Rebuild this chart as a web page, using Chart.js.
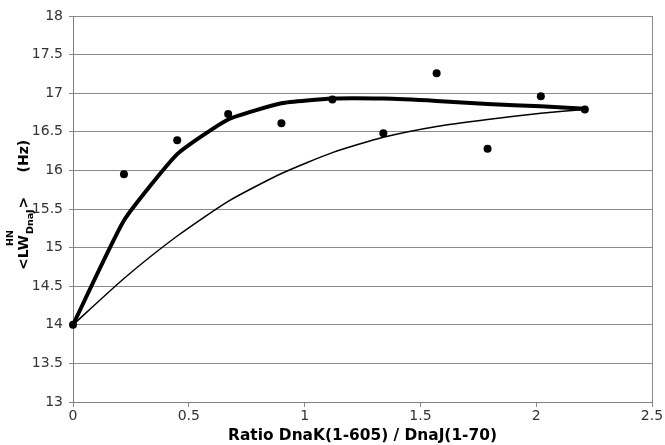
<!DOCTYPE html>
<html>
<head>
<meta charset="utf-8">
<script src="https://cdn.jsdelivr.net/npm/chart.js@4/dist/chart.umd.min.js"></script>
<style>
  body { margin: 0; background: #fff; }
  #wrap { width: 665px; height: 445px; }
</style>
</head>
<body>
<div id="wrap"><canvas id="myChart"></canvas></div>
<script>
// ratio DnaK(1-605) / DnaJ(1-70)
var ratio    = [0, 0.22, 0.45, 0.67, 0.9, 1.12, 1.34, 1.57, 1.79, 2.02, 2.21];
// measured <LW> (Hz)
var measured = [14, 15.95, 16.39, 16.73, 16.61, 16.92, 16.48, 17.26, 16.28, 16.96, 16.79];
// fitted curves
var fitThick = [14, 15.35, 16.21, 16.66, 16.87, 16.93, 16.93, 16.9, 16.86, 16.83, 16.8];
var fitThin  = [14, 14.6, 15.15, 15.6, 15.96, 16.23, 16.43, 16.57, 16.66, 16.74, 16.79];

var xTicks = [0, 0.5, 1, 1.5, 2, 2.5];
var yTicks = [13, 13.5, 14, 14.5, 15, 15.5, 16, 16.5, 17, 17.5, 18];

var xTitle = 'Ratio DnaK(1-605) / DnaJ(1-70)';
var yTitleParts = ['<LW', 'HN', 'DnaJ', '>', '(Hz)'];

function pts(ys) {
  return ratio.map(function (x, i) { return { x: x, y: ys[i] }; });
}

var FONT = "'DejaVu Sans', Verdana, sans-serif";

// right border of the plot + y title with super/subscript
var extras = {
  id: 'extras',
  afterDraw: function (chart) {
    var ctx = chart.ctx, a = chart.chartArea;
    ctx.save();
    ctx.strokeStyle = '#8a8a8a';
    ctx.lineWidth = 1;
    ctx.beginPath();
    ctx.moveTo(Math.round(a.right) + 0.5, a.top);
    ctx.lineTo(Math.round(a.right) + 0.5, a.bottom);
    ctx.stroke();
    ctx.restore();

    // rotated: fillText(t, -screenY, screenX)
    ctx.save();
    ctx.rotate(-Math.PI / 2);
    ctx.fillStyle = '#000';
    ctx.textBaseline = 'alphabetic';
    ctx.textAlign = 'left';
    var big = 'bold 14px ' + FONT, small = 'bold 9.5px ' + FONT;
    var start = 270;
    ctx.font = big;
    var w0 = ctx.measureText(yTitleParts[0]).width;
    ctx.fillText(yTitleParts[0], -start, 28);
    ctx.font = small;
    ctx.fillText(yTitleParts[1], -start + w0 - 11, 13);
    var w2 = ctx.measureText(yTitleParts[2]).width;
    ctx.fillText(yTitleParts[2], -start + w0 + 1, 33);
    var p = -start + w0 + 2 + w2;
    ctx.font = big;
    ctx.fillText(yTitleParts[3], p, 28);
    ctx.fillText(yTitleParts[4], p + 36, 28);
    ctx.restore();
  }
};

var ctx = document.getElementById('myChart').getContext('2d');
var chart = new Chart(ctx, {
  type: 'scatter',
  data: {
    datasets: [
      {
        label: 'measured',
        data: pts(measured),
        showLine: false,
        pointRadius: 4,
        pointBackgroundColor: '#000',
        pointBorderColor: '#000',
        borderWidth: 0,
        clip: false
      },
      {
        label: 'fit 1',
        data: pts(fitThick),
        showLine: true,
        borderColor: '#000',
        borderWidth: 4,
        pointRadius: 0,
        tension: 0.15,
        clip: false
      },
      {
        label: 'fit 2',
        data: pts(fitThin),
        showLine: true,
        borderColor: '#000',
        borderWidth: 1.5,
        pointRadius: 0,
        tension: 0.2,
        clip: false
      }
    ]
  },
  options: {
    responsive: true,
    maintainAspectRatio: false,
    animation: false,
    layout: { padding: { top: 16, right: 13, left: 0, bottom: 0 } },
    plugins: {
      legend: { display: false },
      tooltip: { enabled: false }
    },
    scales: {
      x: {
        type: 'linear',
        min: 0,
        max: 2.5,
        afterBuildTicks: function (s) { s.ticks = xTicks.map(function (v) { return { value: v }; }); },
        afterFit: function (s) { s.height = 43; },
        ticks: {
          color: '#333', font: { family: FONT, size: 14 }, padding: 1, maxRotation: 0,
          callback: function (v) { return String(v); }
        },
        grid: { drawOnChartArea: false, drawTicks: true, tickLength: 5, color: '#8a8a8a' },
        border: { color: '#808080', width: 1 },
        title: {
          display: true,
          text: xTitle,
          color: '#000',
          font: { family: FONT, size: 15.4, weight: 'bold' },
          padding: { top: 0, bottom: 0 }
        }
      },
      y: {
        type: 'linear',
        min: 13,
        max: 18,
        afterBuildTicks: function (s) { s.ticks = yTicks.map(function (v) { return { value: v }; }); },
        afterFit: function (s) { s.width = 73; },
        ticks: {
          color: '#333', font: { family: FONT, size: 14 }, padding: 6,
          callback: function (v) { return String(v); }
        },
        grid: { color: '#8a8a8a', lineWidth: 1, tickLength: 4 },
        border: { color: '#808080', width: 1 }
      }
    }
  },
  plugins: [extras]
});
</script>
</body>
</html>
